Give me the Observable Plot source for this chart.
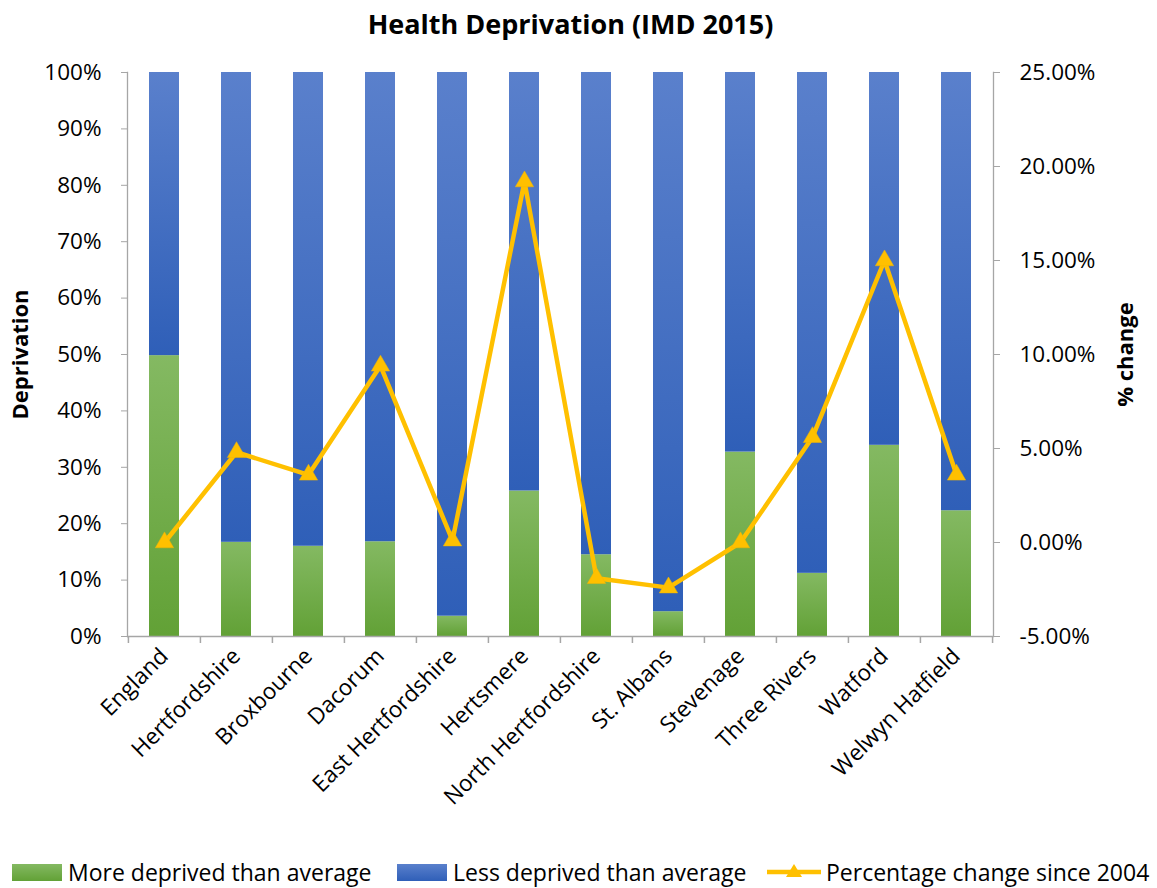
<!DOCTYPE html>
<html>
<head>
<meta charset="utf-8">
<script src="https://cdn.jsdelivr.net/npm/d3@7"></script>
<script src="https://cdn.jsdelivr.net/npm/@observablehq/plot@0.6"></script>
<style>
  body { margin: 0; background: #fff; font-family: "Open Sans", sans-serif; }
  #wrap { position: relative; width: 1157px; height: 888px; }
  #legend { position: absolute; left: 0; top: 856px; width: 1157px; height: 32px; font-size: 23px; color: #000; }
  .item { position: absolute; top: 0; display: flex; align-items: center; height: 32px; }
  .sw { width: 50px; height: 17px; margin-right: 6px; }
</style>
</head>
<body>
<div id="wrap">
  <div id="chart"></div>
  <div id="legend">
    <div class="item" style="left:12px"><div class="sw" style="background:linear-gradient(#84b962,#62a136)"></div>More deprived than average</div>
    <div class="item" style="left:397px"><div class="sw" style="background:linear-gradient(#5a80cc,#2f5fb8)"></div>Less deprived than average</div>
    <div class="item" style="left:767px"><svg width="54" height="20" style="margin-right:5px"><line x1="0" y1="10" x2="54" y2="10" stroke="#ffc000" stroke-width="4.5"/><path d="M27,2 L35,15 L19,15 Z" fill="#ffc000"/></svg>Percentage change since 2004</div>
  </div>
</div>
<script>
const categories = ["England","Hertfordshire","Broxbourne","Dacorum","East Hertfordshire","Hertsmere","North Hertfordshire","St. Albans","Stevenage","Three Rivers","Watford","Welwyn Hatfield"];
const moreDeprived = [0.498,0.167,0.160,0.168,0.036,0.258,0.145,0.044,0.327,0.112,0.339,0.223];
const pctChange = [0.0,4.8,3.6,9.4,0.1,19.2,-1.9,-2.4,0.0,5.6,15.0,3.6]; // percent
const leftTicks = [0,0.1,0.2,0.3,0.4,0.5,0.6,0.7,0.8,0.9,1.0];
const rightTicks = [-5,0,5,10,15,20,25];
const rightMin = -5, rightMax = 25;

const W = 1157, H = 850, ML = 127, MR = 164, MT = 72, MB = 214;
const toLeft = v => (v - rightMin) / (rightMax - rightMin);

const stacked = [];
categories.forEach((c, i) => {
  stacked.push({cat: c, group: "more", value: moreDeprived[i]});
  stacked.push({cat: c, group: "less", value: 1 - moreDeprived[i]});
});
const lineData = categories.map((c, i) => ({cat: c, v: toLeft(pctChange[i])}));
const bw = (W - ML - MR) / categories.length;
const axisColor = "#a6a6a6";
const fontSize = 22.5;
const tickLen = 7 / (H - MT - MB); // 7px in y-units

const plot = Plot.plot({
  width: W, height: H,
  marginLeft: ML, marginRight: MR, marginTop: MT, marginBottom: MB,
  style: {fontFamily: "Open Sans, sans-serif", fontSize: fontSize + "px", color: "#000", background: "#fff"},
  x: {domain: categories, paddingInner: 0.585, paddingOuter: 0.2925, label: null},
  y: {domain: [0, 1], label: null},
  marks: [
    Plot.barY(stacked, {x: "cat", y: "value", fill: d => d.group === "more" ? "url(#gGreen)" : "url(#gBlue)", order: ["more", "less"], inset: 0}),
    Plot.ruleY([0], {stroke: axisColor, strokeWidth: 1.3}),
    Plot.frame({anchor: "left", stroke: axisColor, strokeWidth: 1.3}),
    Plot.frame({anchor: "right", stroke: axisColor, strokeWidth: 1.3}),
    Plot.ruleX(categories, {x: d => d, y1: 0, y2: -tickLen, dx: -bw / 2, stroke: axisColor, strokeWidth: 1.5}),
    Plot.ruleX([categories[categories.length - 1]], {x: d => d, y1: 0, y2: -tickLen, dx: bw / 2, stroke: axisColor, strokeWidth: 1.5}),
    Plot.axisY({anchor: "left", ticks: leftTicks, tickFormat: d => Math.round(d * 100) + "%", tickSize: 6, tickPadding: 20, stroke: axisColor, fill: "#000", fontSize: fontSize, label: null}),
    Plot.axisY({anchor: "right", ticks: rightTicks.map(toLeft), tickFormat: d => (d * (rightMax - rightMin) + rightMin).toFixed(2) + "%", tickSize: 6, tickPadding: 20, stroke: axisColor, fill: "#000", fontSize: fontSize, label: null}),
    Plot.axisX({tickSize: 0, tickRotate: -45, tickPadding: 16, fontSize: fontSize, fill: "#000", label: null}),
    Plot.line(lineData, {x: "cat", y: "v", stroke: "#ffc000", strokeWidth: 4.5, strokeLinejoin: "miter"}),
    Plot.dot(lineData, {x: "cat", y: "v", symbol: "triangle", r: 6.8, fill: "#ffc000", stroke: "#f2b600", strokeWidth: 0.5}),
    Plot.text(["Health Deprivation (IMD 2015)"], {frameAnchor: "top", dy: -58, dx: 10, fontSize: 27, fontWeight: "bold", fill: "#000"}),
    Plot.text(["Deprivation"], {frameAnchor: "left", dx: -107, rotate: -90, textAnchor: "middle", fontSize: 22, fontWeight: "bold", fill: "#000"}),
    Plot.text(["% change"], {frameAnchor: "right", dx: 132, rotate: -90, textAnchor: "middle", fontSize: 22, fontWeight: "bold", fill: "#000"})
  ]
});

const ns = "http://www.w3.org/2000/svg";
const defs = document.createElementNS(ns, "defs");
defs.innerHTML = `
  <linearGradient id="gGreen" x1="0" y1="0" x2="0" y2="1">
    <stop offset="0" stop-color="#84b962"/><stop offset="1" stop-color="#62a136"/>
  </linearGradient>
  <linearGradient id="gBlue" x1="0" y1="0" x2="0" y2="1">
    <stop offset="0" stop-color="#5a80cc"/><stop offset="1" stop-color="#2f5fb8"/>
  </linearGradient>`;
plot.insertBefore(defs, plot.firstChild);
document.getElementById("chart").appendChild(plot);
</script>
</body>
</html>
